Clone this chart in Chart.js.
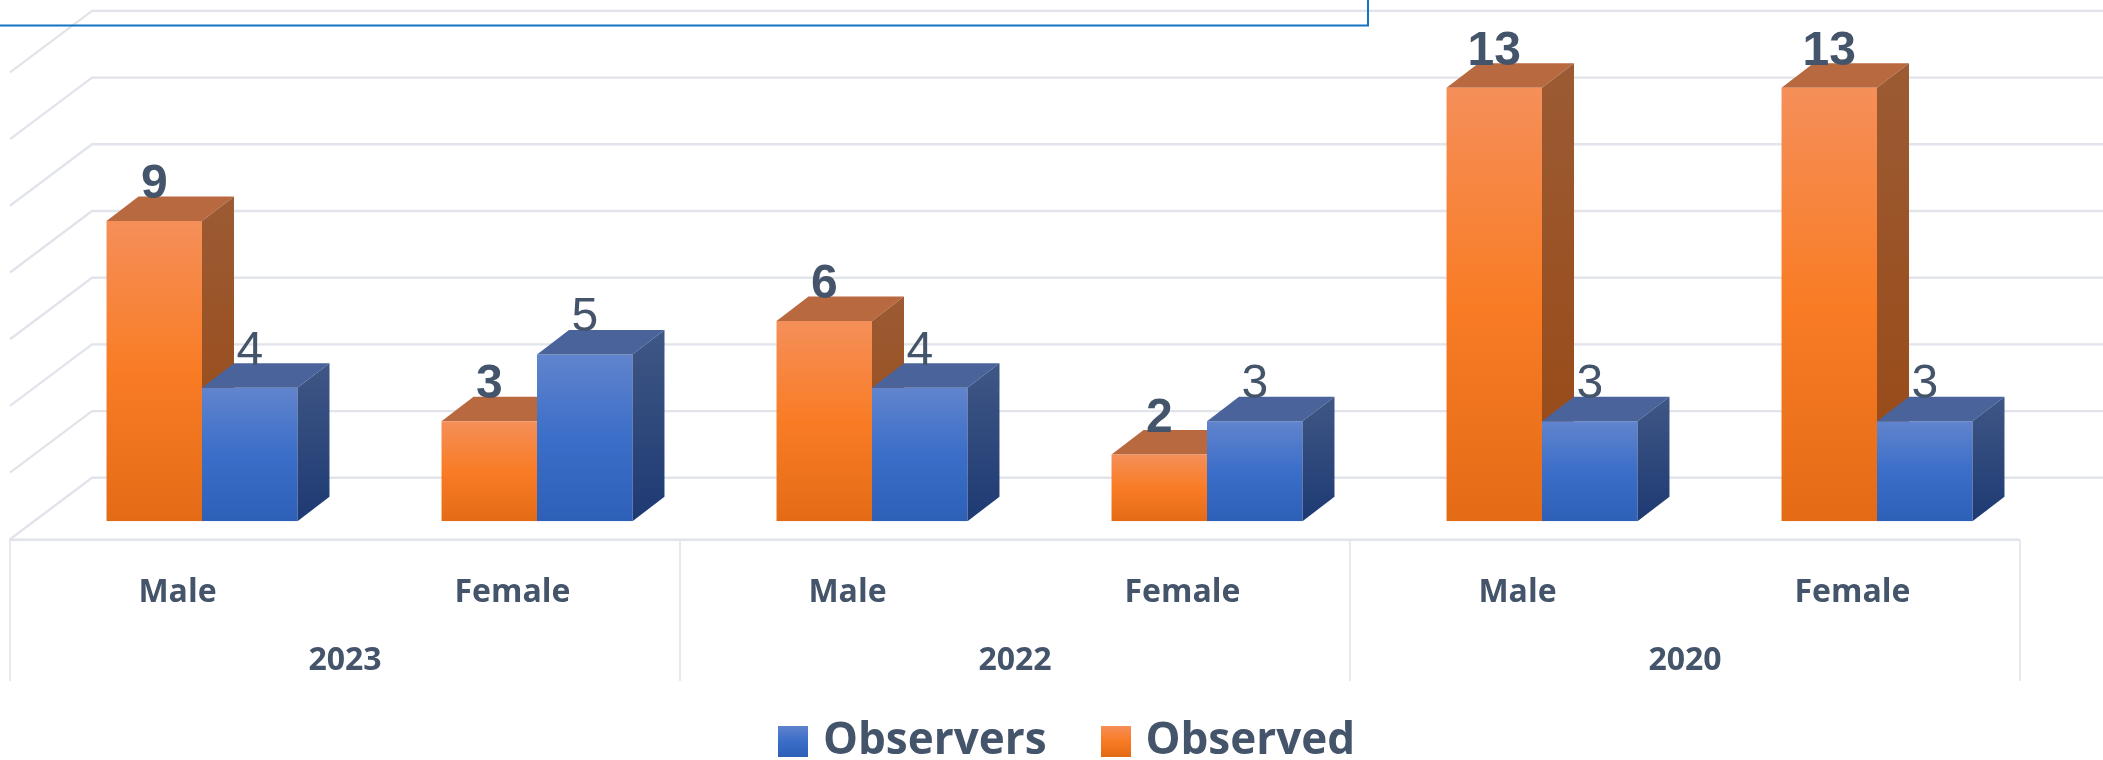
<!DOCTYPE html>
<html><head><meta charset="utf-8">
<style>html,body{margin:0;padding:0;background:#fff;overflow:hidden}canvas{display:block}</style>
<script src="https://cdn.jsdelivr.net/npm/chart.js@4/dist/chart.umd.min.js"></script>
</head><body>
<canvas id="c" width="2103" height="760"></canvas>
<script>
const categories = ['Male','Female','Male','Female','Male','Female'];
const years = ['2023','2022','2020'];
const observed = [9,3,6,2,13,13];
const observers = [4,5,4,3,3,3];
const gridTicks = [0,2,4,6,8,10,12,14];

const TEXT='#44546A', GRID='#E1E4EB';
const DX=32, DY=24.5;            // bar depth
const WALL_DY=-43.4;             // back wall offset from front-plane baseline
const FLOOR_L=10, WALL_L=92;
const LABEL_SHIFT=-24.5;

const ORANGE={stops:['#F58F59','#F97C25','#E46B16'],top:'#B8693F',side:['#9C5B34','#984813']};
const BLUE={stops:['#6184CD','#3B6EC8','#2E60B8'],top:'#4A639B',side:['#3F5785','#1E3A73']};

function grad(ctx,y0,y1,cols){
  const g=ctx.createLinearGradient(0,y0,0,y1);
  cols.forEach((c,i)=>g.addColorStop(i/(cols.length-1),c));
  return g;
}
function swatch(cols){
  const k=document.createElement('canvas');k.width=30;k.height=31;
  const x=k.getContext('2d');x.fillStyle=grad(x,0,31,cols);x.fillRect(0,0,30,31);
  return k;
}
function barFill(pal,ctx){
  const ch=ctx.chart;
  if(!ch.chartArea||ctx.parsed===undefined) return pal.stops[1];
  const y=ch.scales.y;
  return grad(ch.ctx,y.getPixelForValue(ctx.parsed.y),y.getPixelForValue(0),pal.stops);
}
function faces(chart,index,pal){
  const c=chart.ctx;
  chart.getDatasetMeta(index).data.forEach(b=>{
    const l=b.x-b.width/2,r=b.x+b.width/2,t=b.y,bt=b.base;
    c.fillStyle=pal.top;
    c.beginPath();c.moveTo(l,t);c.lineTo(l+DX,t-DY);c.lineTo(r+DX,t-DY);c.lineTo(r,t);c.closePath();c.fill();
    c.fillStyle=grad(c,t-DY,bt,pal.side);
    c.beginPath();c.moveTo(r,t);c.lineTo(r+DX,t-DY);c.lineTo(r+DX,bt-DY);c.lineTo(r,bt);c.closePath();c.fill();
  });
}
const scene={
  id:'scene',
  beforeLayout(chart){
    const lg=chart.legend;
    if(lg&&!lg._flat){
      const f=lg.fit;
      lg.fit=function(){f.call(this);this.height=0;};
      lg._flat=true;
    }
  },
  beforeDraw(chart){
    const lg=chart.legend;
    const w=lg.right-lg.left;
    lg.left=65;lg.right=65+w;lg.top=658;
    const c=chart.ctx,y=chart.scales.y,x2=chart.scales.x2;
    c.save();
    c.strokeStyle=GRID;c.lineWidth=2.4;
    gridTicks.forEach(v=>{
      const p=y.getPixelForValue(v)+WALL_DY;
      c.beginPath();c.moveTo(FLOOR_L,p+61.5);c.lineTo(WALL_L,p);c.lineTo(chart.width,p);c.stroke();
    });
    const base=y.getPixelForValue(0)+WALL_DY+62;
    c.beginPath();c.moveTo(FLOOR_L-1,base);c.lineTo(2020,base);c.stroke();
    c.lineWidth=1.6;
    for(let i=0;i<=years.length;i++){
      const px=x2.left+i*(x2.width/years.length)+LABEL_SHIFT;
      c.beginPath();c.moveTo(px,base);c.lineTo(px,681);c.stroke();
    }
    c.restore();
  },
  beforeDatasetsDraw(chart){ faces(chart,0,ORANGE); },
  afterDatasetsDraw(chart){
    faces(chart,1,BLUE);
    const c=chart.ctx;
    c.save();c.textAlign='center';c.textBaseline='middle';c.fillStyle=TEXT;
    chart.data.datasets.forEach((d,i)=>{
      c.font=(i===0?'bold ':'')+'48px "Liberation Sans"';
      chart.getDatasetMeta(i).data.forEach((b,j)=>{
        c.fillText(String(d.data[j]),b.x,b.y-(i===0?36:36.5));
      });
    });
    // blue selection frame at the top of the picture
    c.strokeStyle='#1174C4';c.lineWidth=2;
    c.beginPath();c.moveTo(0,25.5);c.lineTo(1368,25.5);c.lineTo(1368,0);c.stroke();
    c.restore();
  }
};
new Chart(document.getElementById('c'),{
  type:'bar',
  data:{labels:categories,datasets:[
    {label:'Observed',data:observed,backgroundColor:ctx=>barFill(ORANGE,ctx),borderWidth:0},
    {label:'Observers',data:observers,backgroundColor:ctx=>barFill(BLUE,ctx),borderWidth:0}
  ]},
  plugins:[scene],
  options:{
    responsive:false,animation:false,
    layout:{padding:{left:34.5,right:58.5,top:54.3,bottom:0}},
    datasets:{bar:{categoryPercentage:0.57,barPercentage:1}},
    scales:{
      x:{position:'bottom',grid:{display:false},border:{display:false},
        afterFit(a){a.height=99.2;},
        ticks:{autoSkip:false,maxRotation:0,color:TEXT,padding:44,labelOffset:LABEL_SHIFT,
          font:{family:'"Open Sans"',size:32,weight:'bold'}}},
      x2:{type:'category',labels:years,position:'bottom',grid:{display:false},border:{display:false},
        afterFit(a){a.height=139.6;},
        ticks:{autoSkip:false,maxRotation:0,color:TEXT,padding:13,labelOffset:LABEL_SHIFT,
          font:{family:'"Open Sans"',size:32,weight:'bold'}}},
      y:{display:false,min:0,max:14}
    },
    plugins:{
      tooltip:{enabled:false},title:{display:false},
      legend:{position:'bottom',reverse:true,
        labels:{usePointStyle:true,pointStyleWidth:16,padding:61,color:TEXT,
          font:{family:'"Open Sans"',size:44,weight:'bold'},
          generateLabels:()=>[
            {text:'Observed',pointStyle:swatch(ORANGE.stops),fontColor:TEXT,datasetIndex:0,lineWidth:0,strokeStyle:'transparent',fillStyle:'transparent'},
            {text:'Observers',pointStyle:swatch(BLUE.stops),fontColor:TEXT,datasetIndex:1,lineWidth:0,strokeStyle:'transparent',fillStyle:'transparent'}
          ]}}
    }
  }
});
</script>
</body></html>
